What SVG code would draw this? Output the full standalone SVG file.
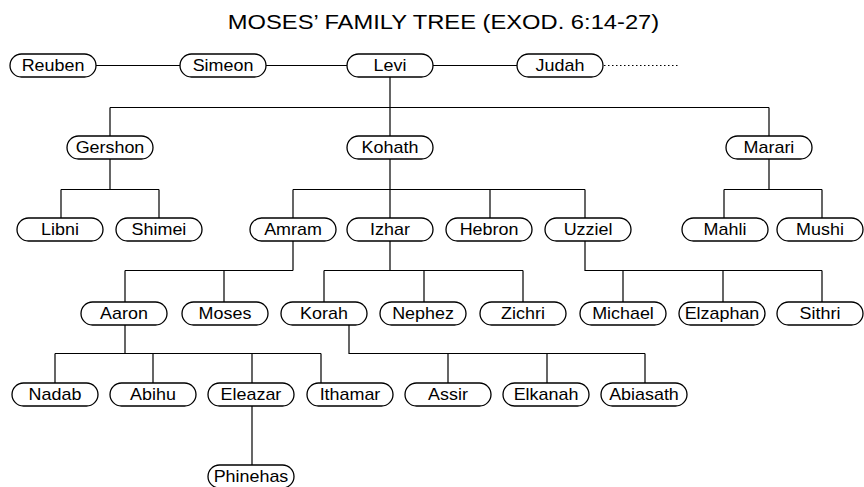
<svg xmlns="http://www.w3.org/2000/svg" width="864" height="487" viewBox="0 0 864 487">
<style>
.bg{fill:#fff}
.pill{fill:#fff;stroke:#000;stroke-width:1.3}
.lbl{font-family:"Liberation Sans",Arial,sans-serif;font-size:16px;fill:#000;text-anchor:middle;transform-box:fill-box;transform-origin:center;transform:scaleX(1.12)}
.title{font-family:"Liberation Sans",Arial,sans-serif;font-size:21px;fill:#000;text-anchor:middle;transform-box:fill-box;transform-origin:center;transform:scaleX(1.13)}
.conn{fill:none;stroke:#000;stroke-width:1.2}
.dots{fill:none;stroke:#000;stroke-width:1.2;stroke-dasharray:1.5 2.5}
</style>
<rect class="bg" x="0" y="0" width="864" height="487"/>
<text class="title" x="443.5" y="29.5">MOSES’ FAMILY TREE (EXOD. 6:14-27)</text>
<g id="connectors">
<path class="conn" d="M96,65.5 H180 M266,65.5 H347 M433,65.5 H517"/>
<path class="dots" d="M604,65.5 H680"/>
<path class="conn" d="M390,77 V107.5 M110,107.5 H769 M110,107.5 V136 M390,107.5 V136 M769,107.5 V136"/>
<path class="conn" d="M110,159 V189.5 M61,189.5 H159 M61,189.5 V218 M159,189.5 V218"/>
<path class="conn" d="M390,159 V189.5 M293,189.5 H585 M293,189.5 V218 M390,189.5 V218 M490,189.5 V218 M585,189.5 V218"/>
<path class="conn" d="M769,159 V189.5 M724,189.5 H822 M724,189.5 V218 M822,189.5 V218"/>
<path class="conn" d="M293,241 V270.5 M125,270.5 H293 M125,270.5 V302 M224,270.5 V302"/>
<path class="conn" d="M390,241 V270.5 M324,270.5 H523 M324,270.5 V302 M424,270.5 V302 M523,270.5 V302"/>
<path class="conn" d="M585,241 V270.5 H822 M623,270.5 V302 M723,270.5 V302 M822,270.5 V302"/>
<path class="conn" d="M125,325 V353.5 M55,353.5 H321 M55,353.5 V383 M153,353.5 V383 M252,353.5 V383 M321,353.5 V383"/>
<path class="conn" d="M349,325 V353.5 H645 M448,353.5 V383 M547,353.5 V383 M645,353.5 V383"/>
<path class="conn" d="M252,406 V465"/>
</g>
<g id="reuben"><rect class="pill" x="10" y="54" width="86" height="23" rx="11.5"/><text class="lbl" x="53" y="71">Reuben</text></g>
<g id="simeon"><rect class="pill" x="180" y="54" width="86" height="23" rx="11.5"/><text class="lbl" x="223" y="71">Simeon</text></g>
<g id="levi"><rect class="pill" x="347" y="54" width="86" height="23" rx="11.5"/><text class="lbl" x="390" y="71">Levi</text></g>
<g id="judah"><rect class="pill" x="517" y="54" width="86" height="23" rx="11.5"/><text class="lbl" x="560" y="71">Judah</text></g>
<g id="gershon"><rect class="pill" x="67" y="136" width="86" height="23" rx="11.5"/><text class="lbl" x="110" y="153">Gershon</text></g>
<g id="kohath"><rect class="pill" x="347" y="136" width="86" height="23" rx="11.5"/><text class="lbl" x="390" y="153">Kohath</text></g>
<g id="marari"><rect class="pill" x="726" y="136" width="86" height="23" rx="11.5"/><text class="lbl" x="769" y="153">Marari</text></g>
<g id="libni"><rect class="pill" x="17" y="218" width="86" height="23" rx="11.5"/><text class="lbl" x="60" y="235">Libni</text></g>
<g id="shimei"><rect class="pill" x="116" y="218" width="86" height="23" rx="11.5"/><text class="lbl" x="159" y="235">Shimei</text></g>
<g id="amram"><rect class="pill" x="250" y="218" width="86" height="23" rx="11.5"/><text class="lbl" x="293" y="235">Amram</text></g>
<g id="izhar"><rect class="pill" x="347" y="218" width="86" height="23" rx="11.5"/><text class="lbl" x="390" y="235">Izhar</text></g>
<g id="hebron"><rect class="pill" x="446" y="218" width="86" height="23" rx="11.5"/><text class="lbl" x="489" y="235">Hebron</text></g>
<g id="uzziel"><rect class="pill" x="545" y="218" width="86" height="23" rx="11.5"/><text class="lbl" x="588" y="235">Uzziel</text></g>
<g id="mahli"><rect class="pill" x="682" y="218" width="86" height="23" rx="11.5"/><text class="lbl" x="725" y="235">Mahli</text></g>
<g id="mushi"><rect class="pill" x="777" y="218" width="86" height="23" rx="11.5"/><text class="lbl" x="820" y="235">Mushi</text></g>
<g id="aaron"><rect class="pill" x="81" y="302" width="86" height="23" rx="11.5"/><text class="lbl" x="124" y="319">Aaron</text></g>
<g id="moses"><rect class="pill" x="182" y="302" width="86" height="23" rx="11.5"/><text class="lbl" x="225" y="319">Moses</text></g>
<g id="korah"><rect class="pill" x="281" y="302" width="86" height="23" rx="11.5"/><text class="lbl" x="324" y="319">Korah</text></g>
<g id="nephez"><rect class="pill" x="380" y="302" width="86" height="23" rx="11.5"/><text class="lbl" x="423" y="319">Nephez</text></g>
<g id="zichri"><rect class="pill" x="480" y="302" width="86" height="23" rx="11.5"/><text class="lbl" x="523" y="319">Zichri</text></g>
<g id="michael"><rect class="pill" x="580" y="302" width="86" height="23" rx="11.5"/><text class="lbl" x="623" y="319">Michael</text></g>
<g id="elzaphan"><rect class="pill" x="679" y="302" width="86" height="23" rx="11.5"/><text class="lbl" x="722" y="319">Elzaphan</text></g>
<g id="sithri"><rect class="pill" x="777" y="302" width="86" height="23" rx="11.5"/><text class="lbl" x="820" y="319">Sithri</text></g>
<g id="nadab"><rect class="pill" x="12" y="383" width="86" height="23" rx="11.5"/><text class="lbl" x="55" y="400">Nadab</text></g>
<g id="abihu"><rect class="pill" x="110" y="383" width="86" height="23" rx="11.5"/><text class="lbl" x="153" y="400">Abihu</text></g>
<g id="eleazar"><rect class="pill" x="208" y="383" width="86" height="23" rx="11.5"/><text class="lbl" x="251" y="400">Eleazar</text></g>
<g id="ithamar"><rect class="pill" x="307" y="383" width="86" height="23" rx="11.5"/><text class="lbl" x="350" y="400">Ithamar</text></g>
<g id="assir"><rect class="pill" x="405" y="383" width="86" height="23" rx="11.5"/><text class="lbl" x="448" y="400">Assir</text></g>
<g id="elkanah"><rect class="pill" x="503" y="383" width="86" height="23" rx="11.5"/><text class="lbl" x="546" y="400">Elkanah</text></g>
<g id="abiasath"><rect class="pill" x="601" y="383" width="86" height="23" rx="11.5"/><text class="lbl" x="644" y="400">Abiasath</text></g>
<g id="phinehas"><rect class="pill" x="208" y="465" width="86" height="23" rx="11.5"/><text class="lbl" x="251" y="482">Phinehas</text></g>
</svg>
